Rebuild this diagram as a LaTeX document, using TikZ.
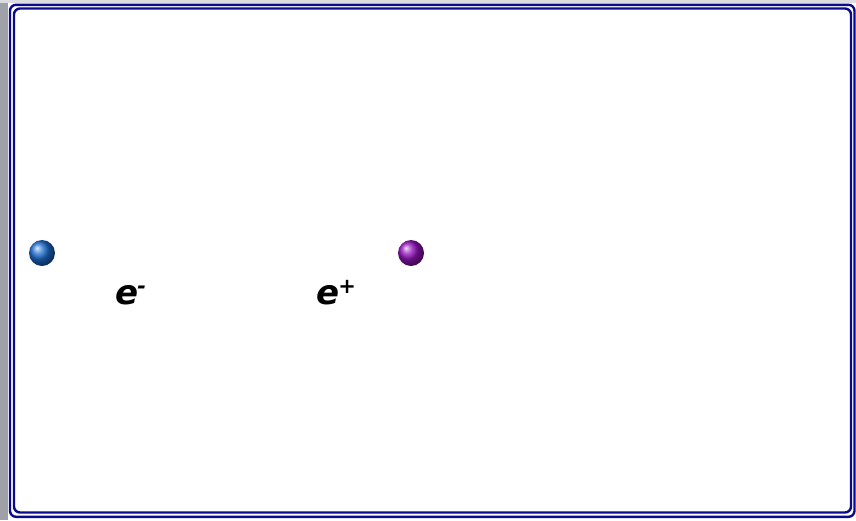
\documentclass[tikz,border=0pt]{standalone}
\usepackage{fontspec}
\newfontfamily\chargefont{DejaVu Sans}
\definecolor{frameblue}{RGB}{10,10,140}
\definecolor{leftgray}{RGB}{160,160,168}
\definecolor{topgray}{RGB}{220,220,225}
\definecolor{ballblue}{RGB}{30,110,210}
\definecolor{ballpurple}{RGB}{150,20,190}
\newcommand{\chargesup}[1]{\raisebox{11pt}{\fontsize{21}{22}\selectfont #1}}
\tikzset{
  framestyle/.style={draw=frameblue, line width=2.4pt, rounded corners=6pt},
  particle/.style={circle, minimum size=26pt, inner sep=0pt},
  charge/.style={font=\chargefont\bfseries\itshape\fontsize{34}{36}\selectfont, inner sep=0pt}
}
\begin{document}
\begin{tikzpicture}[x=1pt,y=-1pt]
\useasboundingbox (0,0) rectangle (856,520);
\fill[white] (0,0) rectangle (856,520);
\fill[leftgray] (0,0) rectangle (8,520);
\fill[topgray] (0,0) rectangle (856,3);
\draw[framestyle] (10,4.8) rectangle (854.5,516.8);
\draw[framestyle] (14,8.5) rectangle (851,512.5);
\node[particle, shading=ball, ball color=ballblue] (electron) at (42,253) {};
\node[particle, shading=ball, ball color=ballpurple] (positron) at (411,253) {};
\node[charge, anchor=base west] (elabel) at (115,304) {e\kern-1pt\chargesup{-}};
\node[charge, anchor=base west] (plabel) at (316,304) {e\kern-1pt\chargesup{+}};
\end{tikzpicture}
\end{document}
